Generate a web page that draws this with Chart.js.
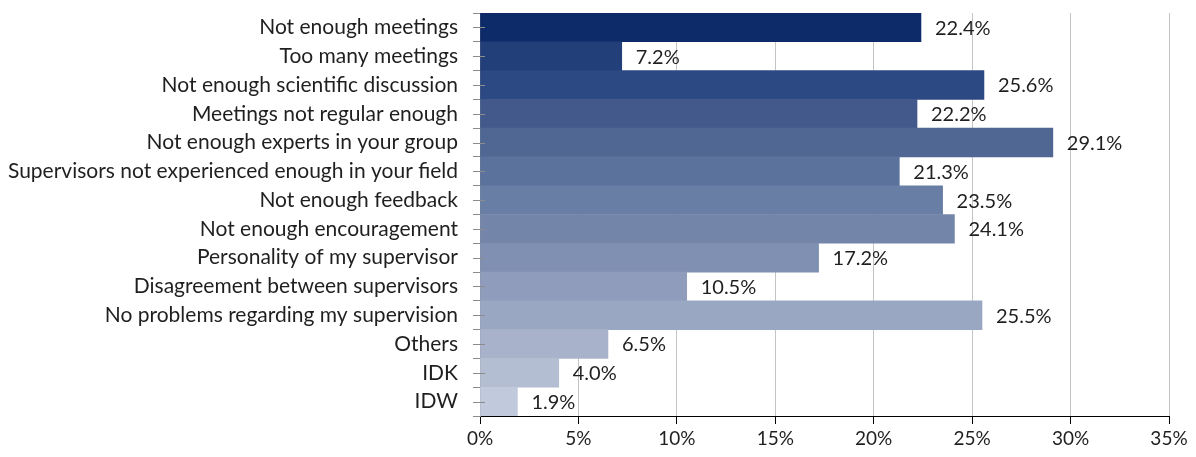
<!DOCTYPE html>
<html>
<head>
<meta charset="utf-8">
<script src="https://cdn.jsdelivr.net/npm/chart.js@4"></script>
<style>
  html, body { margin: 0; padding: 0; background: #fff; }
  #wrap { width: 1196px; height: 457px; }
</style>
</head>
<body>
<div id="wrap"><canvas id="supervisionChart"></canvas></div>
<script>
// Data
const categories = [
  'Not enough meetings',
  'Too many meetings',
  'Not enough scientific discussion',
  'Meetings not regular enough',
  'Not enough experts in your group',
  'Supervisors not experienced enough in your field',
  'Not enough feedback',
  'Not enough encouragement',
  'Personality of my supervisor',
  'Disagreement between supervisors',
  'No problems regarding my supervision',
  'Others',
  'IDK',
  'IDW'
];
const percentages = [22.4, 7.2, 25.6, 22.2, 29.1, 21.3, 23.5, 24.1, 17.2, 10.5, 25.5, 6.5, 4.0, 1.9];
const xTicks = [0, 5, 10, 15, 20, 25, 30, 35];

// dark navy -> light steel blue, one per bar
const barColors = [
  '#0d2b69', '#233f7a', '#2c4983', '#43598b', '#4f6792', '#5b729c', '#687ea5',
  '#7386aa', '#8090b3', '#8f9cbb', '#9aa7c3', '#a8b3cb', '#b4bed3', '#c1c9dc'
];

const FONT = 'Lato, "Liberation Sans", sans-serif';

// value labels to the right of each bar + small centre ticks on the y axis
const extras = {
  id: 'extras',
  afterDatasetsDraw(chart) {
    const ctx = chart.ctx;
    const meta = chart.getDatasetMeta(0);
    const left = chart.chartArea.left;
    ctx.save();
    // y axis ticks (category centres)
    ctx.strokeStyle = '#8c8c8c';
    ctx.lineWidth = 1;
    meta.data.forEach((bar) => {
      const y = Math.round(bar.y) + 0.5;
      ctx.beginPath();
      ctx.moveTo(left - 7, y);
      ctx.lineTo(left + 5, y);
      ctx.stroke();
    });
    // labels
    ctx.font = '20px ' + FONT;
    ctx.fillStyle = '#1f1f1f';
    ctx.textAlign = 'left';
    ctx.textBaseline = 'middle';
    meta.data.forEach((bar, i) => {
      ctx.fillText(percentages[i].toFixed(1) + '%', bar.x + 14, bar.y + 1);
    });
    ctx.restore();
  }
};

const ctx = document.getElementById('supervisionChart').getContext('2d');
new Chart(ctx, {
  type: 'bar',
  data: {
    labels: categories,
    datasets: [{
      data: percentages,
      backgroundColor: barColors,
      borderWidth: 0,
      barPercentage: 1,
      categoryPercentage: 1
    }]
  },
  options: {
    indexAxis: 'y',
    responsive: true,
    maintainAspectRatio: false,
    animation: false,
    layout: { padding: { top: 0, right: 27, bottom: 0, left: 0 } },
    plugins: {
      legend: { display: false },
      tooltip: { enabled: false }
    },
    scales: {
      x: {
        min: 0,
        max: 35,
        afterBuildTicks(scale) {
          scale.ticks = xTicks.map(v => ({ value: v }));
        },
        afterFit(scale) { scale.height = 41; },
        grid: {
          color: '#c4c4c4',
          tickColor: '#000',
          tickLength: 8,
          lineWidth: 1
        },
        border: { display: true, color: '#000', width: 1 },
        ticks: {
          callback: v => v + '%',
          color: '#1f1f1f',
          padding: 3,
          maxRotation: 0,
          font: { family: FONT, size: 19 }
        }
      },
      y: {
        afterFit(scale) {
          scale.width = 480;
          scale.paddingTop = 13;
          scale.paddingBottom = 0;
        },
        grid: {
          drawOnChartArea: false,
          color: '#8c8c8c',
          tickLength: 7,
          offset: true
        },
        border: { display: true, color: '#8c8c8c', width: 1 },
        ticks: {
          color: '#1f1f1f',
          padding: 15,
          autoSkip: false,
          font: { family: FONT, size: 21 }
        }
      }
    }
  },
  plugins: [extras]
});
</script>
</body>
</html>
